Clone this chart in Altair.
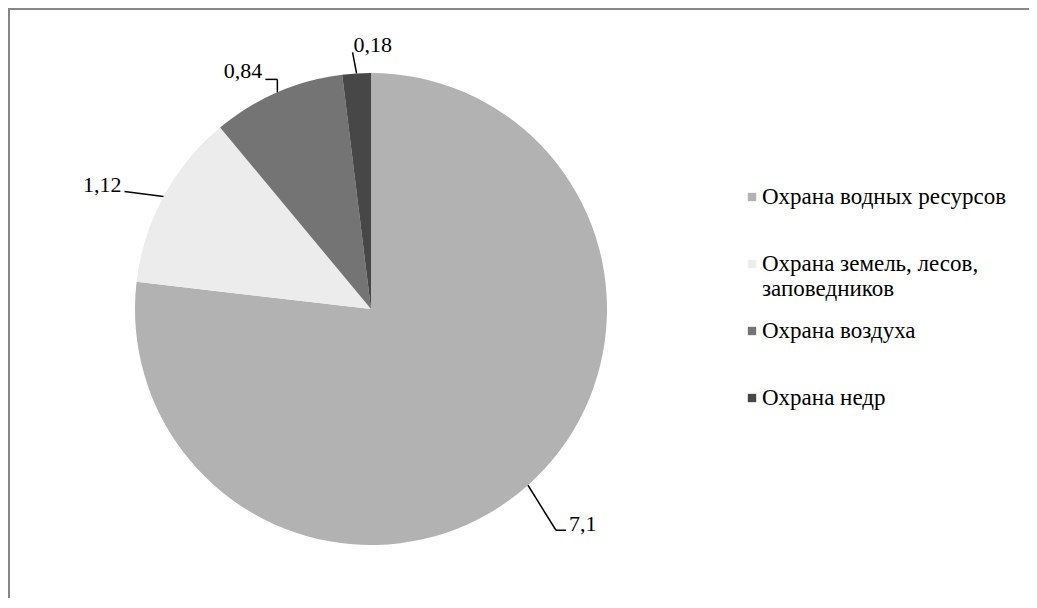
import math
import altair as alt
import pandas as pd

# ---- data ----
categories = [
    "Охрана водных ресурсов",
    "Охрана земель, лесов, заповедников",
    "Охрана воздуха",
    "Охрана недр",
]
values = [7.1, 1.12, 0.84, 0.18]
value_labels = ["7,1", "1,12", "0,84", "0,18"]
legend_lines = [
    ["Охрана водных ресурсов"],
    ["Охрана земель, лесов,", "заповедников"],
    ["Охрана воздуха"],
    ["Охрана недр"],
]

# ---- style / layout ----
fills = ["#b2b2b2", "#ececec", "#747474", "#474747"]
W, H = 1021, 590
CX, CY, R = 363, 301, 236
FONT = "Liberation Serif"
FS = 22
LFS = 23
LEG_SYM_X, LEG_TEXT_X, LEG_Y0, LEG_STEP, LEG_LINE = 744, 754, 189, 67, 25

# offsets relative to the slice edge point: elbow, end of leader, text anchor
label_layout = [
    dict(elbow=(28, 45), end=(38, 45), text=(41, 46), align="left"),
    dict(elbow=None, end=(-39, -5), text=(-42, -5), align="right"),
    dict(elbow=(0, -13), end=(-12, -13), text=(-15, -14), align="right"),
    dict(elbow=None, end=(-4, -21), text=(-3, -21), align="left"),
]

total = sum(values)
pie_df = pd.DataFrame({"cat": categories, "value": values, "order": list(range(len(values)))})

seg_rows, lab_rows = [], []
cum = 0.0
for v, lab, lay in zip(values, value_labels, label_layout):
    a = 2 * math.pi * (cum + v / 2) / total
    cum += v
    ex, ey = CX + R * math.sin(a), CY - R * math.cos(a)
    pts = [(ex, ey)]
    if lay["elbow"]:
        pts.append((ex + lay["elbow"][0], ey + lay["elbow"][1]))
    pts.append((ex + lay["end"][0], ey + lay["end"][1]))
    for (x1, y1), (x2, y2) in zip(pts[:-1], pts[1:]):
        seg_rows.append(dict(x=x1, y=y1, x2=x2, y2=y2))
    lab_rows.append(dict(x=ex + lay["text"][0], y=ey + lay["text"][1], label=lab, align=lay["align"]))
seg_df = pd.DataFrame(seg_rows)
lab_df = pd.DataFrame(lab_rows)

leg_sym_rows, leg_txt_rows = [], []
for i, (cat, lines) in enumerate(zip(categories, legend_lines)):
    y0 = LEG_Y0 + i * LEG_STEP
    leg_sym_rows.append(dict(x=LEG_SYM_X, y=y0, cat=cat))
    for j, line in enumerate(lines):
        leg_txt_rows.append(dict(x=LEG_TEXT_X, y=y0 + j * LEG_LINE, label=line))
leg_sym_df = pd.DataFrame(leg_sym_rows)
leg_txt_df = pd.DataFrame(leg_txt_rows)

xs = alt.Scale(domain=[0, W], nice=False, zero=False)
ys = alt.Scale(domain=[0, H], nice=False, zero=False, reverse=True)
color = alt.Color("cat:N", scale=alt.Scale(domain=categories, range=fills), legend=None)

# outer frame: only its left and top edges fall inside the picture
frame = alt.Chart(pd.DataFrame({"a": [0]})).mark_rect(
    fillOpacity=0, stroke="#878787", strokeWidth=2
).encode(
    x=alt.value(1), x2=alt.value(W + 40), y=alt.value(1), y2=alt.value(H + 40)
)

arcs = alt.Chart(pie_df).mark_arc(outerRadius=R).encode(
    theta=alt.Theta("value:Q", stack=True),
    order=alt.Order("order:Q"),
    color=color,
    x=alt.value(CX),
    y=alt.value(CY),
)

segs = alt.Chart(seg_df).mark_rule(color="black", strokeWidth=1.5).encode(
    x=alt.X("x:Q", scale=xs, axis=None),
    y=alt.Y("y:Q", scale=ys, axis=None),
    x2="x2:Q",
    y2="y2:Q",
)

def labels(al):
    return alt.Chart(lab_df).transform_filter(alt.datum.align == al).mark_text(
        align=al, baseline="alphabetic", font=FONT, fontSize=FS, color="black"
    ).encode(
        x=alt.X("x:Q", scale=xs, axis=None),
        y=alt.Y("y:Q", scale=ys, axis=None),
        text="label:N",
    )

leg_sym = alt.Chart(leg_sym_df).mark_square(size=70, opacity=1).encode(
    x=alt.X("x:Q", scale=xs, axis=None),
    y=alt.Y("y:Q", scale=ys, axis=None),
    color=color,
)
leg_txt = alt.Chart(leg_txt_df).mark_text(
    align="left", baseline="middle", font=FONT, fontSize=LFS, color="black"
).encode(
    x=alt.X("x:Q", scale=xs, axis=None),
    y=alt.Y("y:Q", scale=ys, axis=None),
    text="label:N",
)

chart = alt.layer(
    frame, arcs, segs, labels("left"), labels("right"), leg_sym, leg_txt
).properties(
    width=W, height=H, autosize=alt.AutoSizeParams(type="none"), padding=0, background="white"
).configure_view(strokeWidth=0, stroke="transparent")

chart.save("out.html", embed_options={"renderer": "svg", "actions": False})
